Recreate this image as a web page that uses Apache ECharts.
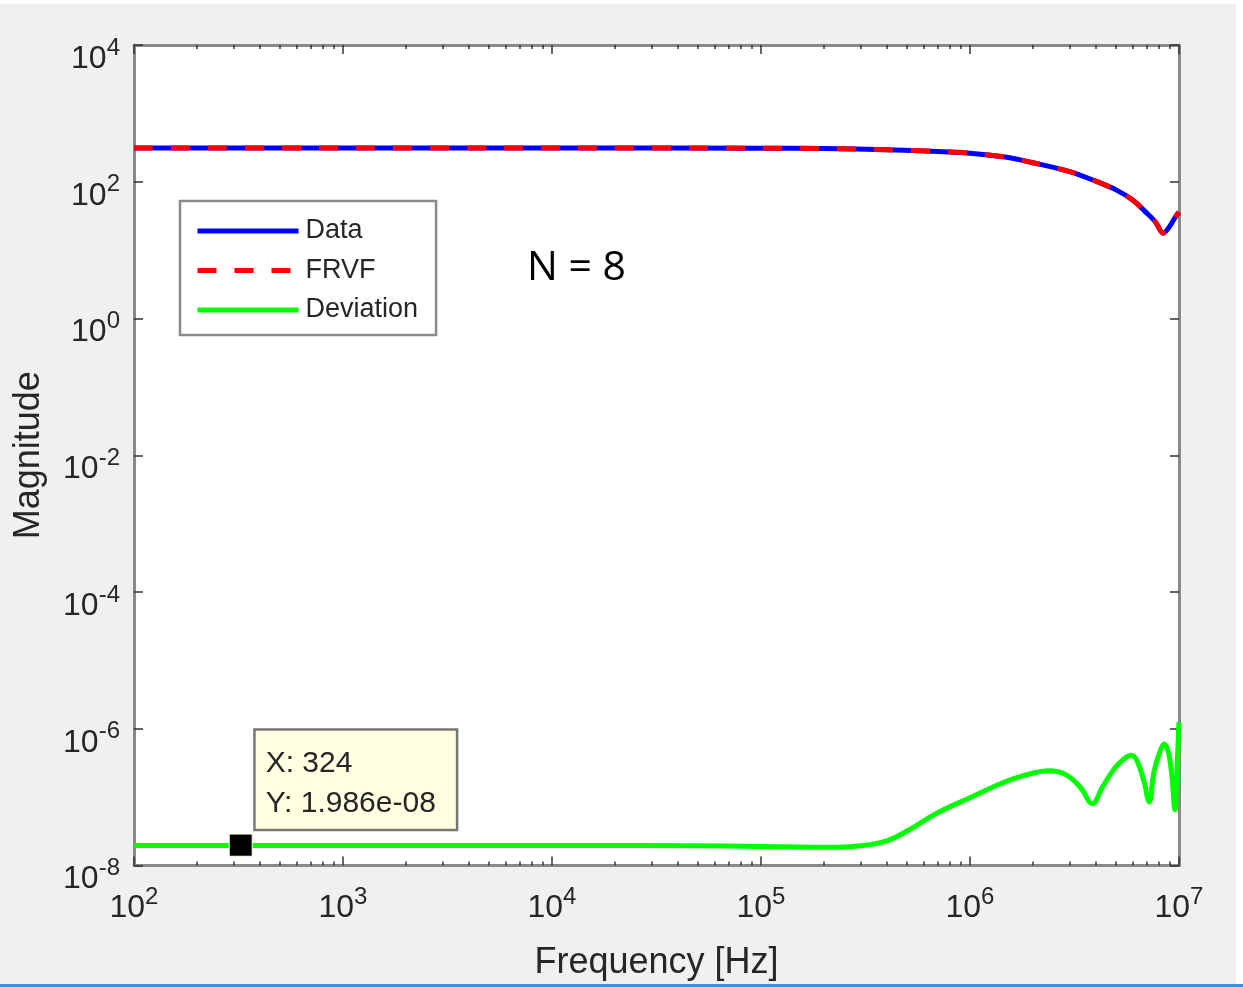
<!DOCTYPE html>
<html>
<head>
<meta charset="utf-8">
<title>Magnitude vs Frequency</title>
<script src="https://cdn.jsdelivr.net/npm/echarts@6/dist/echarts.min.js"></script>
<style>
  html, body { margin: 0; padding: 0; background: #fff; }
  #chart { width: 1243px; height: 987px; }
</style>
</head>
<body>
<div id="chart"></div>
<script>
// frequency response (Data) and the vector-fit result (FRVF)
const freqMag = [100, 1e3, 1e4, 1e5, 2e5, 4e5, 7e5, 1e6, 1.5e6, 2e6, 3e6, 4e6, 5e6, 6e6, 7e6, 7.7e6, 8.4e6, 9e6, 9.5e6, 1e7];
const dataMag = [311, 311, 311, 310, 306, 294, 278, 262, 228, 190, 141, 102, 76, 54, 35, 26, 17.7, 22, 29, 36];
const frvfMag = [311, 311, 311, 310, 306, 294, 278, 262, 228, 190, 141, 102, 76, 54, 35, 26, 17.7, 22, 29, 36];

// deviation between data and fit
const freqDev = [100, 1e3, 1e4, 5e4, 1e5, 2e5, 3e5, 4e5, 5e5, 7e5, 1e6, 1.4e6, 1.8e6, 2.4e6, 2.9e6, 3.4e6, 3.85e6, 4.3e6, 4.9e6, 5.5e6, 5.9e6, 6.3e6, 6.8e6, 7.2e6, 7.6e6, 8.1e6, 8.5e6, 8.9e6, 9.25e6, 9.55e6, 9.8e6, 1e7];
const devMag = [1.96e-8, 1.96e-8, 1.96e-8, 1.94e-8, 1.9e-8, 1.85e-8, 1.95e-8, 2.3e-8, 3.2e-8, 5.9e-8, 9.8e-8, 1.57e-7, 2.06e-7, 2.43e-7, 2.1e-7, 1.35e-7, 8e-8, 1.4e-7, 2.6e-7, 3.7e-7, 4.1e-7, 3.4e-7, 1.7e-7, 8.5e-8, 2.4e-7, 4.6e-7, 6e-7, 4.5e-7, 2e-7, 6.5e-8, 3e-7, 1.25e-6];

// data tip
const tipX = 324;
const tipY = 1.986e-8;

// axis ranges (decades)
const xExp = [2, 7];
const yExp = [-8, 4];

const minorExp = [];
for (let d = xExp[0]; d < xExp[1]; d++) {
  for (let k = 2; k <= 9; k++) minorExp.push(Math.log10(k * Math.pow(10, d)));
}

const pairs = (xs, ys) => xs.map((x, i) => [x, ys[i]]);

const tickFont = 'Liberation Sans Narrow, Liberation Sans, Arial, sans-serif';
const powLabel = v => {
  const e = Math.round(Math.log10(v));
  return '{b|10}{s|' + e + '}';
};
const powRich = {
  b: { fontFamily: tickFont, fontSize: 32, lineHeight: 32, color: '#262626', verticalAlign: 'top', padding: [14, 0, 0, 0] },
  s: { fontFamily: tickFont, fontSize: 24, lineHeight: 24, color: '#262626', verticalAlign: 'top', padding: [7, 0, 0, 0] }
};

const axisLineStyle = { show: true, lineStyle: { color: '#8a8a8a', width: 3 } };
const majorTick = { show: true, inside: true, length: 9, lineStyle: { color: '#333', width: 1.5 } };
const minorTick = { show: true, inside: true, length: 4, customValues: minorExp, lineStyle: { color: '#333', width: 1.5 } };

let myChart = echarts.init(document.getElementById('chart'));
myChart.setOption({
  backgroundColor: '#f0f0f0',
  animation: false,
  grid: {
    left: 134, right: 64, top: 45, bottom: 121.5,
    show: true, backgroundColor: '#fff', borderWidth: 0
  },
  title: {
    text: 'N = 8',
    left: 527, top: 248, padding: 0,
    textStyle: { fontFamily: 'Open Sans', fontSize: 41, fontWeight: 'normal', color: '#000' }
  },
  legend: {
    orient: 'vertical',
    left: 180, top: 201,
    padding: [15, 18, 10, 15],
    itemWidth: 101, itemHeight: 30, itemGap: 9.5,
    backgroundColor: '#fff', borderColor: '#8a8a8a', borderWidth: 2.5,
    // hide the marker circle, keep only the line sample
    itemStyle: { opacity: 0 },
    lineStyle: { width: 5 },
    textStyle: { fontFamily: 'Liberation Sans, Arial, sans-serif', fontSize: 27, lineHeight: 30, color: '#262626', padding: [0, 0, 0, 2] },
    data: ['Data', 'FRVF', 'Deviation']
  },
  xAxis: [
    {
      type: 'log', logBase: 10, min: 100, max: 1e7, interval: 1, position: 'bottom',
      name: 'Frequency [Hz]', nameLocation: 'middle', nameGap: 80,
      nameTextStyle: { fontFamily: 'Liberation Sans, Arial, sans-serif', fontSize: 36, color: '#262626' },
      axisLine: axisLineStyle, axisTick: majorTick,
      axisLabel: { margin: 13, formatter: powLabel, rich: powRich },
      splitLine: { show: false }, minorTick: { show: false }
    },
    {
      type: 'log', logBase: 10, min: 100, max: 1e7, interval: 1, position: 'top',
      axisLine: axisLineStyle, axisTick: majorTick, axisLabel: { show: false },
      splitLine: { show: false }
    },
    {
      type: 'value', min: xExp[0], max: xExp[1], position: 'bottom',
      axisLine: { show: false }, axisTick: minorTick, axisLabel: { show: false }, splitLine: { show: false }
    },
    {
      type: 'value', min: xExp[0], max: xExp[1], position: 'top',
      axisLine: { show: false }, axisTick: minorTick, axisLabel: { show: false }, splitLine: { show: false }
    }
  ],
  yAxis: [
    {
      type: 'log', logBase: 10, min: Math.pow(10, yExp[0]), max: Math.pow(10, yExp[1]), interval: 2, position: 'left',
      name: 'Magnitude', nameLocation: 'middle', nameGap: 87, nameRotate: 90,
      nameTextStyle: { fontFamily: 'Liberation Sans, Arial, sans-serif', fontSize: 36, color: '#262626' },
      axisLine: axisLineStyle, axisTick: majorTick,
      axisLabel: { margin: 14, formatter: powLabel, rich: powRich },
      splitLine: { show: false }
    },
    {
      type: 'log', logBase: 10, min: Math.pow(10, yExp[0]), max: Math.pow(10, yExp[1]), interval: 2, position: 'right',
      axisLine: axisLineStyle, axisTick: majorTick, axisLabel: { show: false },
      splitLine: { show: false }
    }
  ],
  series: [
    {
      name: 'Data', type: 'line', xAxisIndex: 0, yAxisIndex: 0,
      data: pairs(freqMag, dataMag), smooth: 0.3, symbol: 'none',
      itemStyle: { color: '#0000ff' },
      lineStyle: { color: '#0000ff', width: 5 }
    },
    {
      name: 'FRVF', type: 'line', xAxisIndex: 0, yAxisIndex: 0,
      data: pairs(freqMag, frvfMag), smooth: 0.3, symbol: 'none',
      itemStyle: { color: '#ff0000' },
      lineStyle: { color: '#ff0000', width: 5, type: [19, 18] }
    },
    {
      name: 'Deviation', type: 'line', xAxisIndex: 0, yAxisIndex: 0,
      data: pairs(freqDev, devMag), smooth: 0.4, symbol: 'none',
      itemStyle: { color: '#00ff00' },
      lineStyle: { color: '#00ff00', width: 5 },
      markPoint: {
        symbol: 'rect', symbolSize: [23, 22],
        itemStyle: { color: '#000', borderColor: '#ffffe1', borderWidth: 1 },
        label: {
          show: true,
          position: [27, -103],
          formatter: 'X: ' + tipX + '\nY: ' + tipY.toExponential(3).replace('e-', 'e-0'),
          fontFamily: 'Liberation Sans, Arial, sans-serif', fontSize: 30, lineHeight: 40,
          color: '#262626', backgroundColor: '#ffffe1',
          borderColor: '#777', borderWidth: 2.5,
          padding: [13, 20, 5, 10]
        },
        data: [{ coord: [tipX, tipY] }]
      }
    }
  ],
  graphic: [
    { type: 'rect', left: 0, top: 0, shape: { width: 1243, height: 4 }, style: { fill: '#fff' }, silent: true },
    { type: 'rect', right: 0, top: 0, shape: { width: 7, height: 987 }, style: { fill: '#fff' }, silent: true },
    { type: 'rect', left: 0, bottom: 0, shape: { width: 1243, height: 3 }, style: { fill: '#3d8fdb' }, silent: true }
  ]
});
</script>
</body>
</html>
